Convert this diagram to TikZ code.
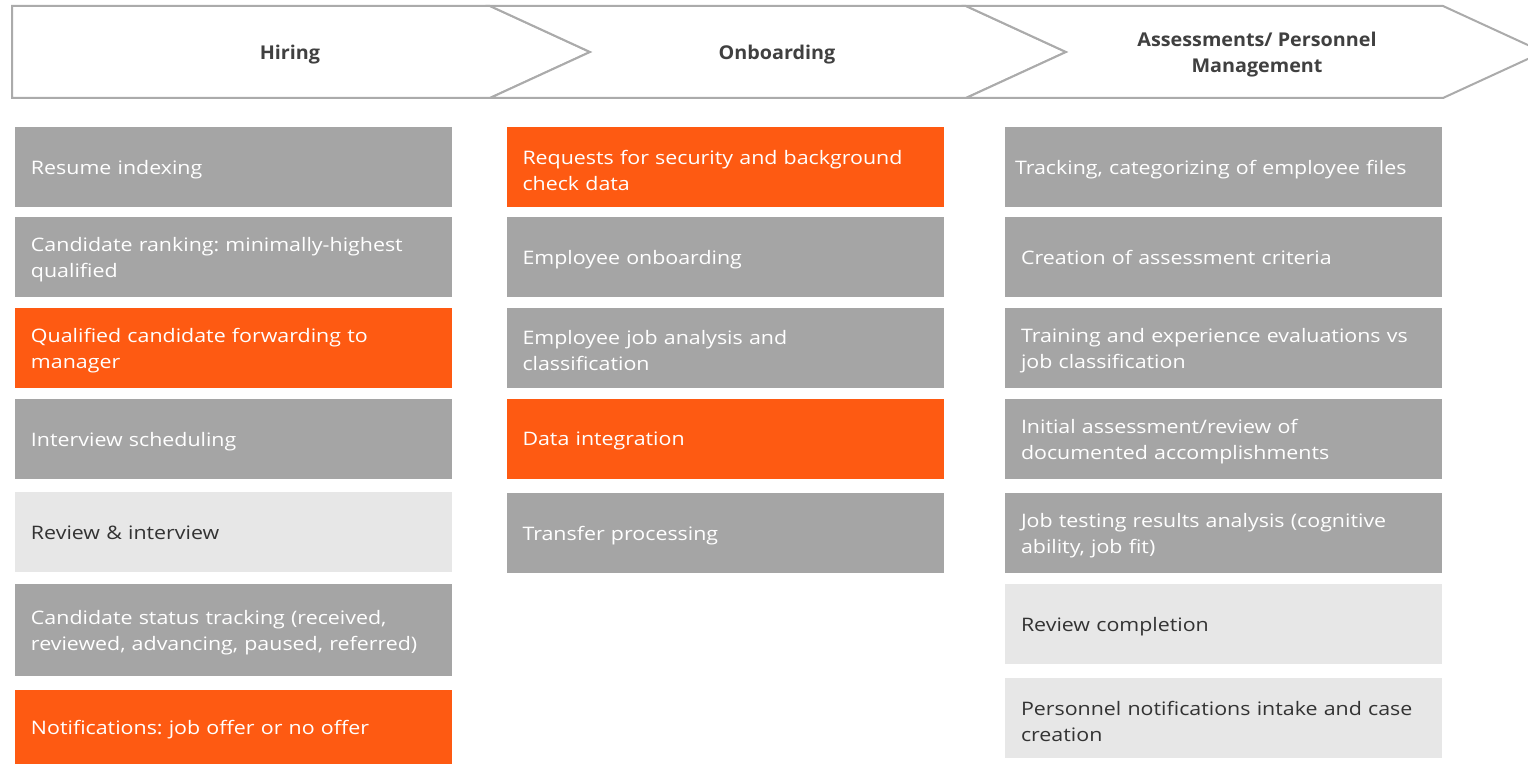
\documentclass[tikz,border=0pt]{standalone}
\usepackage{fontspec}
\setmainfont{Open Sans}[FakeStretch=1.15]
\newfontfamily\headfont{Open Sans}[FakeStretch=1.04]
\usetikzlibrary{positioning}
\frenchspacing

\definecolor{boxgray}{HTML}{A5A5A5}
\definecolor{boxorange}{HTML}{FE5A12}
\definecolor{boxlight}{HTML}{E7E7E7}
\definecolor{edgegray}{HTML}{ABABAB}
\definecolor{headtext}{HTML}{404040}
\definecolor{darktext}{HTML}{333333}

\tikzset{
  task/.style={minimum height=40pt, text width=202.5pt, inner xsep=8pt,
               inner ysep=0pt, align=left, text=white, fill=boxgray,
               font=\fontsize{9.3}{13}\selectfont,
               execute at end node={\par\vspace*{-3pt}}},
  hot/.style={task, fill=boxorange},
  soft/.style={task, fill=boxlight, text=darktext},
  phase/.style={draw=edgegray, line width=1pt, fill=white, line join=miter},
  phasetext/.style={font=\headfont\bfseries\fontsize{9.5}{13}\selectfont,
                    text=headtext, align=center}
}

\begin{document}
\begin{tikzpicture}[x=0.5pt, y=-0.5pt]
    \useasboundingbox (0,0) rectangle (1528,764);

    % Phase chevrons across the top
    \draw[phase] (12,6) -- (490,6) -- (590,52) -- (490,98) -- (12,98) -- cycle;
    \draw[phase] (490,6) -- (966,6) -- (1066,52) -- (966,98) -- (490,98)
                 -- (590,52) -- cycle;
    \draw[phase] (966,6) -- (1443,6) -- (1543,52) -- (1443,98) -- (966,98)
                 -- (1066,52) -- cycle;

    \node[phasetext] (hiring)  at (290,55)  {Hiring};
    \node[phasetext] (onboard) at (777,55)  {Onboarding};
    \node[phasetext] (assess)  at (1257,55) {Assessments/ Personnel\\Management};

    % Hiring column
    \node[task] (resume)  at (233.5,167) {Resume indexing};
    \node[task] (ranking) at (233.5,257) {Candidate ranking: minimally-highest\\qualified};
    \node[hot]  (forward) at (233.5,348) {Qualified candidate forwarding to\\manager};
    \node[task] (sched)   at (233.5,439) {Interview scheduling};
    \node[soft] (review)  at (233.5,532.5) {Review \& interview};
    \node[task, minimum height=46pt] (status) at (233.5,630)
         {Candidate status tracking (received,\\reviewed, advancing, paused, referred)};
    \node[hot, minimum height=37pt] (offer) at (233.5,727)
         {Notifications: job offer or no offer};

    % Onboarding column
    \node[hot]  (security) at (725,167) {Requests for security and background\\check data};
    \node[task] (empon)    at (725,257) {Employee onboarding};
    \node[task] (jobanal)  at (725,348) {Employee job analysis and\\classification};
    \node[hot]  (integ)    at (725,439) {Data integration};
    \node[task] (transfer) at (725,533) {Transfer processing};

    % Assessments / personnel management column
    \node[task, inner xsep=5pt, text width=208.5pt] (files) at (1223.5,167)
         {Tracking, categorizing of employee files};
    \node[task] (criteria) at (1223.5,257) {Creation of assessment criteria};
    \node[task] (training) at (1223.5,348) {Training and experience evaluations vs\\job classification};
    \node[task] (initial)  at (1223.5,439) {Initial assessment/review of\\documented accomplishments};
    \node[task] (testing)  at (1223.5,533) {Job testing results analysis (cognitive\\ability, job fit)};
    \node[soft] (complete) at (1223.5,624) {Review completion};
    \node[soft] (intake)   at (1223.5,718) {Personnel notifications intake and case\\creation};
\end{tikzpicture}
\end{document}
